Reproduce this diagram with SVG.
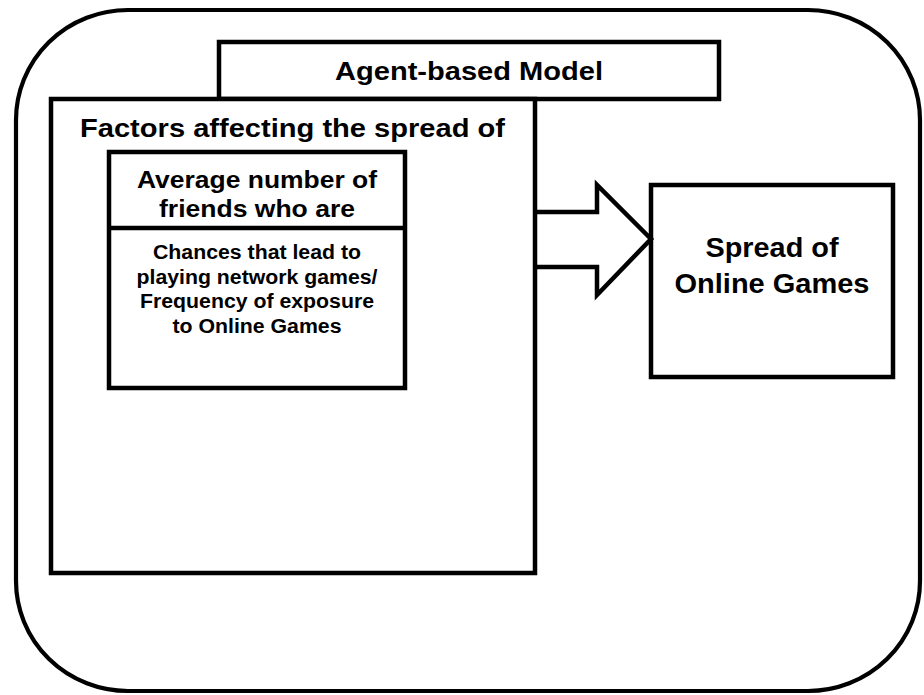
<svg xmlns="http://www.w3.org/2000/svg" width="924" height="695" viewBox="0 0 924 695">
<style>
.box{fill:#fff;stroke:#000;stroke-width:4.5}
.t{font-family:"Liberation Sans",Arial,sans-serif;font-weight:bold;fill:#000}
.c{text-anchor:middle}
</style>
<rect width="924" height="695" fill="#fff"/>
<g id="frame">
<rect x="16" y="10" width="904" height="681" rx="112" ry="110" fill="#fff" stroke="#000" stroke-width="4.2"/>
</g>
<g id="agent-model">
<rect class="box" x="219" y="42" width="500" height="57"/>
<text class="t c" x="469" y="80" font-size="26" textLength="268" lengthAdjust="spacingAndGlyphs">Agent-based Model</text>
</g>
<g id="factors">
<rect class="box" x="51" y="99" width="484" height="474"/>
<text class="t" x="80" y="137" font-size="26.5" textLength="425" lengthAdjust="spacingAndGlyphs">Factors affecting the spread of</text>
</g>
<g id="average-friends">
<rect class="box" x="109" y="152" width="296" height="236"/>
<line x1="109" y1="228" x2="405" y2="228" stroke="#000" stroke-width="4.5"/>
<text class="t c" x="257" y="188" font-size="24.5" textLength="240" lengthAdjust="spacingAndGlyphs">Average number of</text>
<text class="t c" x="257" y="217" font-size="24.5" textLength="196" lengthAdjust="spacingAndGlyphs">friends who are</text>
</g>
<g id="chances">
<text class="t c" x="257" y="259" font-size="19.5" textLength="208" lengthAdjust="spacingAndGlyphs">Chances that lead to</text>
<text class="t c" x="257" y="284" font-size="19.5" textLength="241" lengthAdjust="spacingAndGlyphs">playing network games/</text>
<text class="t c" x="257" y="308" font-size="19.5" textLength="234" lengthAdjust="spacingAndGlyphs">Frequency of exposure</text>
<text class="t c" x="257" y="333" font-size="19.5" textLength="169" lengthAdjust="spacingAndGlyphs">to Online Games</text>
</g>
<g id="spread">
<rect class="box" x="651" y="185" width="242" height="192"/>
<text class="t c" x="772" y="257" font-size="27" textLength="133" lengthAdjust="spacingAndGlyphs">Spread of</text>
<text class="t c" x="772" y="293" font-size="27" textLength="195" lengthAdjust="spacingAndGlyphs">Online Games</text>
</g>
<g id="connectors">
<polyline points="535,212 597,212 597,185 651,239 597,295 597,267 535,267" fill="none" stroke="#000" stroke-width="4.5" stroke-linejoin="miter"/>
</g>
</svg>
